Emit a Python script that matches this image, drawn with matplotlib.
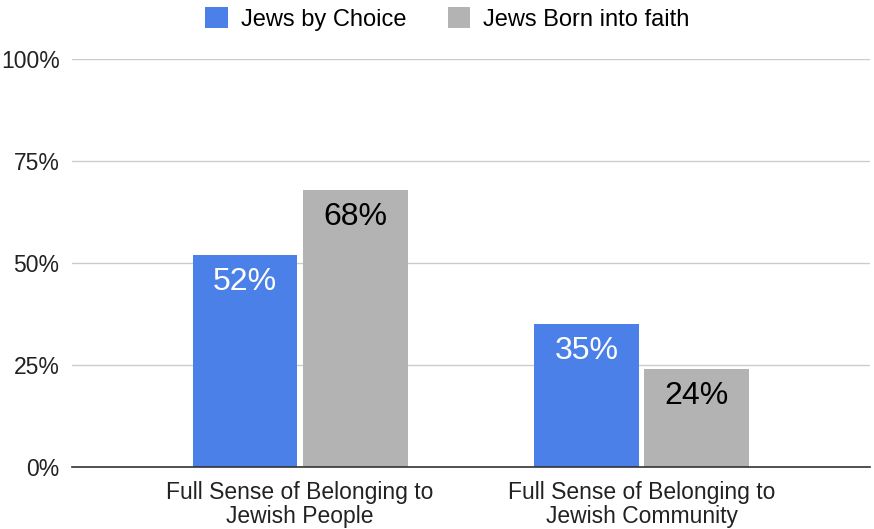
import matplotlib
matplotlib.use("Agg")
import matplotlib.pyplot as plt
import numpy as np

plt.rcParams['font.family'] = ['Liberation Sans', 'DejaVu Sans']

categories = ["Full Sense of Belonging to\nJewish People", "Full Sense of Belonging to\nJewish Community"]
series_names = ["Jews by Choice", "Jews Born into faith"]
choice_vals = [52, 35]
born_vals = [68, 24]
colors = ["#4a80e8", "#b3b3b3"]
label_colors = ["white", "black"]

fig = plt.figure(figsize=(8.74, 5.29), dpi=100)
ax = fig.add_axes([0.0824, 0.1172, 0.9126, 0.7713])

x = np.arange(len(categories))
w = 0.307
off = 0.1615
for vals, name, col, lc, sign in zip([choice_vals, born_vals], series_names, colors, label_colors, [-1, 1]):
    bars = ax.bar(x + sign * off, vals, width=w, color=col, label=name, zorder=2)
    for b, v in zip(bars, vals):
        ax.text(b.get_x() + b.get_width() / 2, v - 3, f"{v}%", ha="center", va="top",
                color=lc, fontsize=23, zorder=3)

ax.set_xlim(-0.668, 1.668)
ax.set_ylim(0, 100)
ax.set_yticks([0, 25, 50, 75, 100])
ax.set_yticklabels(["0%", "25%", "50%", "75%", "100%"], fontsize=16.5, color="#222222")
ax.set_xticks(x)
ax.set_xticklabels(categories, fontsize=16.5, color="#222222", linespacing=1.05)
ax.tick_params(axis="both", length=0)
ax.tick_params(axis="x", pad=10)
ax.tick_params(axis="y", pad=9)
ax.grid(axis="y", color="#cccccc", linewidth=1, zorder=0)
for s in ["top", "right", "left"]:
    ax.spines[s].set_visible(False)
ax.spines["bottom"].set_color("#333333")
ax.spines["bottom"].set_linewidth(1.2)
ax.spines["bottom"].set_zorder(4)

fig.legend(loc="upper center", bbox_to_anchor=(0.512, 1.026), ncol=2, frameon=False,
           fontsize=17, handlelength=0.95, handleheight=0.95, handletextpad=0.55,
           columnspacing=1.75)

fig.savefig("out.png", dpi=100)
